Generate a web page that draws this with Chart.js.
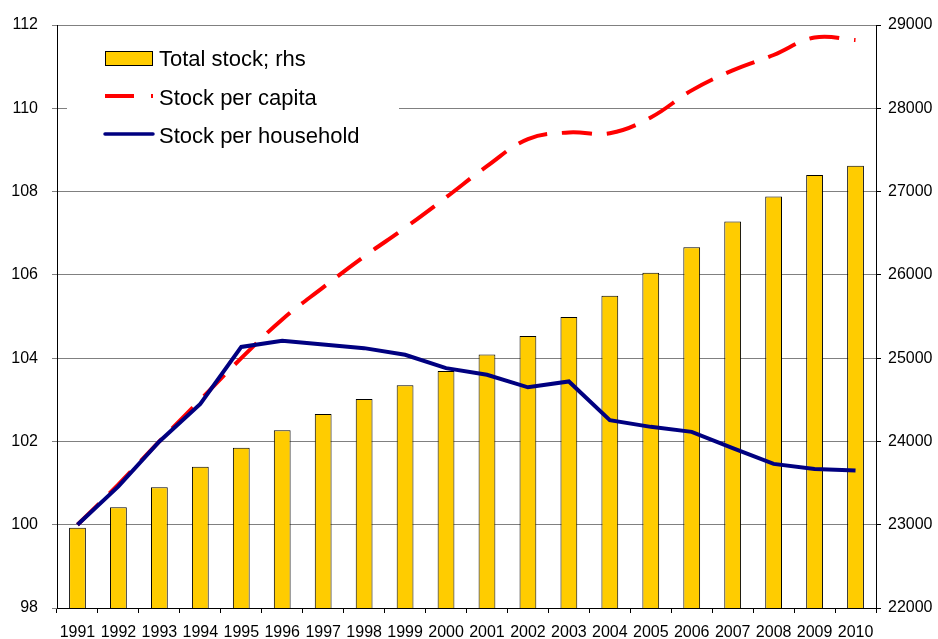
<!DOCTYPE html>
<html>
<head>
<meta charset="utf-8">
<script src="https://cdn.jsdelivr.net/npm/chart.js@4.4.1/dist/chart.umd.min.js"></script>
<style>
  body { margin: 0; background: #fff; }
  #wrap { width: 938px; height: 639px; }
</style>
</head>
<body>
<div id="wrap"><canvas id="stockChart" width="938" height="639"></canvas></div>
<script>
// data
const years = ['1991', '1992', '1993', '1994', '1995', '1996', '1997', '1998', '1999', '2000',
  '2001', '2002', '2003', '2004', '2005', '2006', '2007', '2008', '2009', '2010'];
const totalStock = [22965, 23210, 23450, 23695, 23925, 24135, 24330, 24510, 24675, 24845,
  25045, 25265, 25495, 25750, 26025, 26330, 26640, 26940, 27200, 27310];
const perCapita = [100, 100.97, 102.0, 103.0, 104.0, 104.93, 105.70, 106.44, 107.13, 107.86,
  108.61, 109.26, 109.42, 109.40, 109.78, 110.43, 110.91, 111.28, 111.70, 111.64];
const perHousehold = [100, 100.92, 102.0, 102.9, 104.27, 104.42, 104.33, 104.24, 104.08, 103.76,
  103.6, 103.3, 103.44, 102.51, 102.35, 102.23, 101.84, 101.46, 101.34, 101.30];
const leftTicks = [98, 100, 102, 104, 106, 108, 110, 112];
const rightTicks = [22000, 23000, 24000, 25000, 26000, 27000, 28000, 29000];

const FONT = "'Liberation Sans', Arial, sans-serif";

// legend in a white box inside the plot (like the excel one)
const legendBox = {
  id: 'legendBox',
  afterDatasetsDraw(chart) {
    const c = chart.ctx;
    const ds = chart.data.datasets;
    c.save();
    c.fillStyle = '#fff';
    c.fillRect(67, 30, 332, 128);
    c.font = '22px ' + FONT;
    c.textBaseline = 'alphabetic';
    // bar swatch
    c.fillStyle = ds[0].backgroundColor;
    c.fillRect(105.5, 51.5, 47, 14);
    c.strokeStyle = '#000';
    c.lineWidth = 1;
    c.strokeRect(105.5, 51.5, 47, 14);
    // dashed line swatch
    c.beginPath();
    c.setLineDash([29, 17]);
    c.strokeStyle = ds[1].borderColor;
    c.lineWidth = 4;
    c.moveTo(105, 96);
    c.lineTo(153, 96);
    c.stroke();
    // solid line swatch
    c.beginPath();
    c.setLineDash([]);
    c.strokeStyle = ds[2].borderColor;
    c.lineWidth = 3.5;
    c.lineCap = 'round';
    c.moveTo(105, 134);
    c.lineTo(153, 134);
    c.stroke();
    c.fillStyle = '#000';
    c.fillText(ds[0].label, 159, 66);
    c.fillText(ds[1].label, 159, 105);
    c.fillText(ds[2].label, 159, 143);
    c.restore();
  }
};

const ctx = document.getElementById('stockChart');
new Chart(ctx, {
  data: {
    labels: years,
    datasets: [{
      type: 'bar',
      label: 'Total stock; rhs',
      data: totalStock,
      yAxisID: 'y1',
      backgroundColor: '#FFCC00',
      borderColor: '#000',
      borderWidth: 1,
      categoryPercentage: 1,
      barPercentage: 0.41,
      order: 3
    }, {
      type: 'line',
      label: 'Stock per capita',
      data: perCapita,
      yAxisID: 'y',
      borderColor: '#FF0000',
      borderWidth: 4,
      borderDash: [30, 15],
      borderCapStyle: 'butt',
      tension: 0.4,
      pointRadius: 0,
      fill: false,
      order: 2
    }, {
      type: 'line',
      label: 'Stock per household',
      data: perHousehold,
      yAxisID: 'y',
      borderColor: '#000080',
      borderWidth: 4,
      tension: 0,
      pointRadius: 0,
      fill: false,
      order: 1
    }]
  },
  options: {
    responsive: false,
    devicePixelRatio: 1,
    animation: false,
    layout: { padding: { top: 25, left: 0, right: 0, bottom: 0 } },
    plugins: {
      legend: { display: false },
      tooltip: { enabled: false }
    },
    scales: {
      x: {
        offset: true,
        grid: { offset: true, drawOnChartArea: false, drawTicks: true, tickLength: 5, color: '#000' },
        border: { color: '#000' },
        ticks: { color: '#000', font: { family: FONT, size: 16 }, padding: 10, maxRotation: 0, autoSkip: false },
        afterFit: s => { s.height = 31; }
      },
      y: {
        position: 'left',
        min: 98,
        max: 112,
        afterBuildTicks: s => { s.ticks = leftTicks.map(v => ({ value: v })); },
        grid: { color: '#808080', tickLength: 5 },
        border: { color: '#000' },
        ticks: { color: '#000', font: { family: FONT, size: 16 }, padding: 14, callback: v => String(v) },
        afterFit: s => { s.width = 57; }
      },
      y1: {
        position: 'right',
        min: 22000,
        max: 29000,
        afterBuildTicks: s => { s.ticks = rightTicks.map(v => ({ value: v })); },
        grid: { drawOnChartArea: false, color: '#000', tickLength: 5 },
        border: { color: '#000' },
        ticks: { color: '#000', font: { family: FONT, size: 16 }, padding: 7, callback: v => String(v) },
        afterFit: s => { s.width = 62; }
      }
    }
  },
  plugins: [legendBox]
});
</script>
</body>
</html>
